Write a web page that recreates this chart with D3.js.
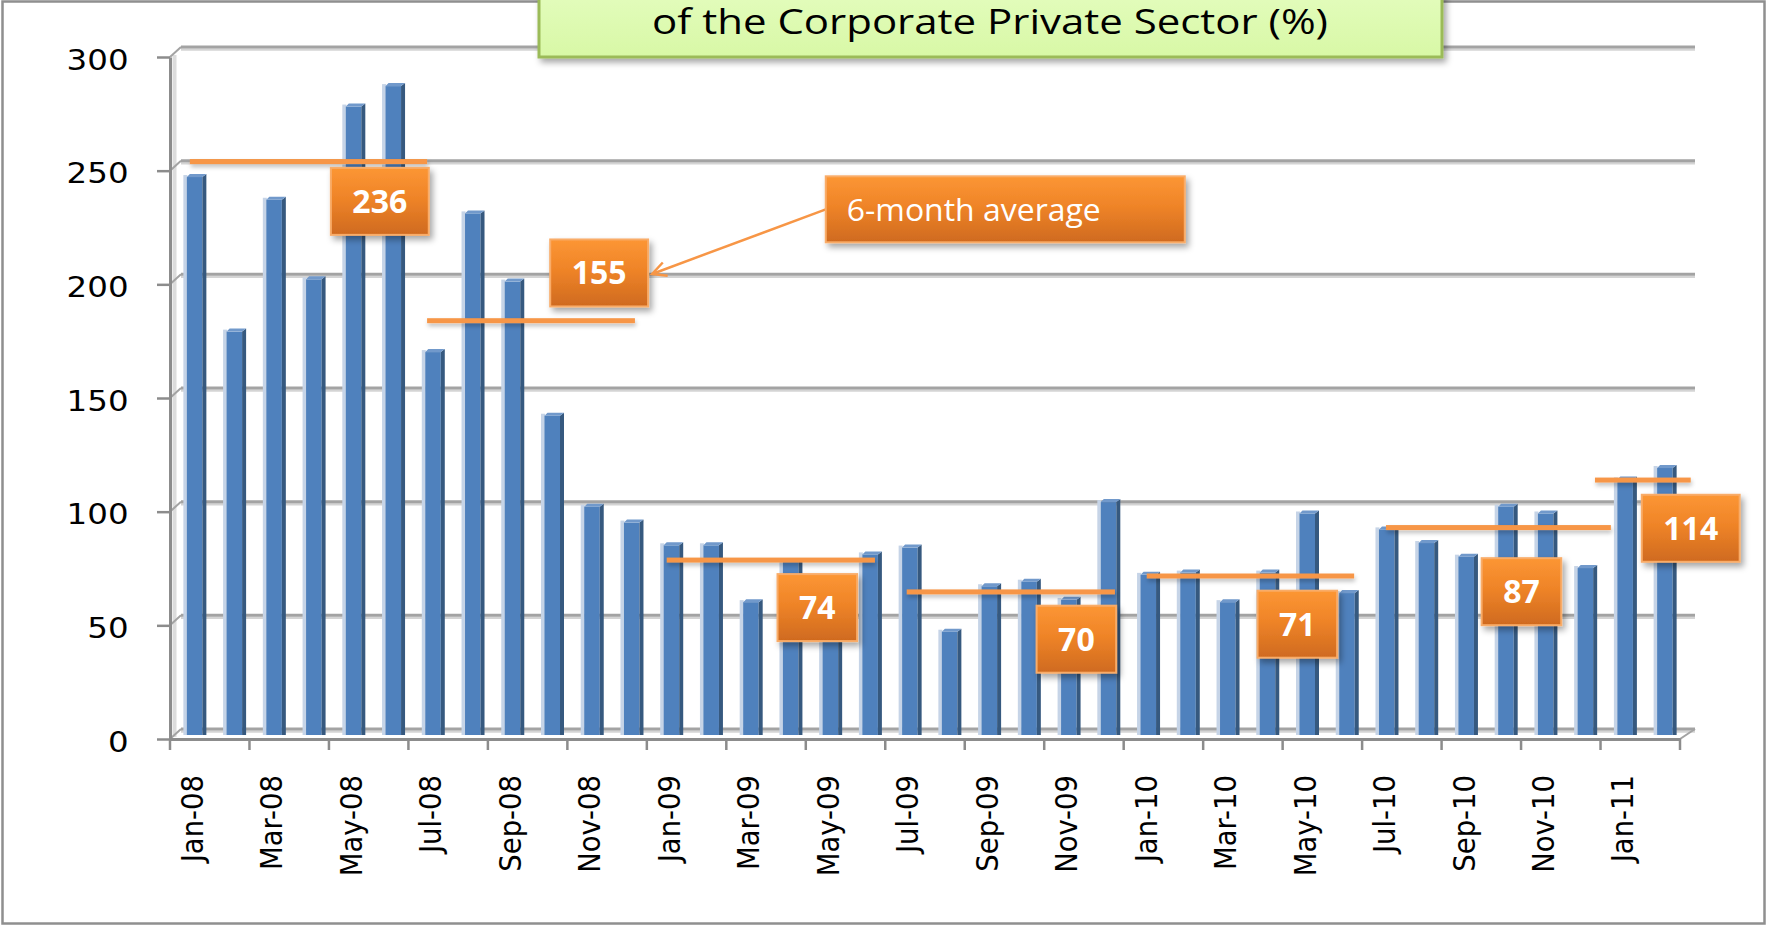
<!DOCTYPE html>
<html>
<head>
<meta charset="utf-8">
<script src="https://cdn.jsdelivr.net/npm/d3@7"></script>
<style>
  html, body { margin: 0; padding: 0; background: #fff; }
  svg { display: block; }
</style>
</head>
<body>
<svg id="chart"></svg>
<script>
// ---- data ----
const months = ["Jan-08","Feb-08","Mar-08","Apr-08","May-08","Jun-08","Jul-08","Aug-08","Sep-08","Oct-08","Nov-08","Dec-08",
                "Jan-09","Feb-09","Mar-09","Apr-09","May-09","Jun-09","Jul-09","Aug-09","Sep-09","Oct-09","Nov-09","Dec-09",
                "Jan-10","Feb-10","Mar-10","Apr-10","May-10","Jun-10","Jul-10","Aug-10","Sep-10","Oct-10","Nov-10","Dec-10",
                "Jan-11","Feb-11"];
const values = [245,177,235,200,276,285,168,229,199,140,100,93,
                83,83,58,76,65,79,82,45,65,67,59,102,
                70,71,58,71,97,62,90,84,78,100,97,73,
                112,117];
const yTicks = [0,50,100,150,200,250,300];

// 6-month average lines (month index from / to, level on the value axis)
const avgFrom  = [0, 5.97, 12.0, 18.04, 24.08, 30.1, 35.36];
const avgTo    = [5.97, 11.2, 17.24, 23.28, 29.3, 35.76, 37.77];
const avgLevel = [254, 184, 78.7, 64.7, 71.7, 93, 113.9];

// average call-out boxes (label, anchor as month index / value)
const avgLabels = ["236","155","74","70","71","87","114"];
const boxAt  = [4.78, 10.3, 15.79, 22.31, 27.87, 33.51, 37.77];
const boxVal = [236.5, 205, 57.8, 43.9, 50.5, 64.8, 92.7];

const noteText = "6-month average";
const noteAt = 20.52, noteVal = 233;
const titleText = "of the Corporate Private Sector (%)";

// ---- layout ----
const W = 1767, H = 926;
const DX = 11, DY = -10;           // depth of the 3d back wall
const orange = "#F79646";

const svg = d3.select("#chart").attr("width", W).attr("height", H);
const defs = svg.append("defs");

defs.append("filter").attr("id", "shadow")
    .attr("x", "-20%").attr("y", "-30%").attr("width", "150%").attr("height", "180%")
  .append("feDropShadow")
    .attr("dx", 3).attr("dy", 4).attr("stdDeviation", 3)
    .attr("flood-color", "#000").attr("flood-opacity", 0.35);

defs.append("filter").attr("id", "lineShadow")
    .attr("x", "-5%").attr("y", "-150%").attr("width", "110%").attr("height", "400%")
  .append("feDropShadow")
    .attr("dx", 1).attr("dy", 3).attr("stdDeviation", 2)
    .attr("flood-color", "#000").attr("flood-opacity", 0.25);

const og = defs.append("linearGradient").attr("id", "orangeGrad")
    .attr("x1", 0).attr("y1", 0).attr("x2", 0).attr("y2", 1);
og.append("stop").attr("offset", "0%").attr("stop-color", "#FC9634");
og.append("stop").attr("offset", "45%").attr("stop-color", "#EF8428");
og.append("stop").attr("offset", "100%").attr("stop-color", "#CF6A1F");

const gg = defs.append("linearGradient").attr("id", "greenGrad")
    .attr("x1", 0).attr("y1", 0).attr("x2", 0).attr("y2", 1);
gg.append("stop").attr("offset", "0%").attr("stop-color", "#E9FFC9");
gg.append("stop").attr("offset", "100%").attr("stop-color", "#D8F8A6");

defs.append("marker").attr("id", "arrow")
    .attr("markerUnits", "userSpaceOnUse")
    .attr("markerWidth", 20).attr("markerHeight", 20)
    .attr("refX", 16).attr("refY", 8).attr("orient", "auto")
  .append("path")
    .attr("d", "M2,1 L16,8 L2,15")
    .attr("fill", "none").attr("stroke", orange).attr("stroke-width", 2.5);

// outer frame
svg.append("rect")
    .attr("x", 2.5).attr("y", 1.5).attr("width", W - 5).attr("height", H - 4)
    .attr("fill", "none").attr("stroke", "#8f8f8f").attr("stroke-width", 2.5);

const x = d3.scaleBand().domain(months).range([170, 1680]);
const xi = d3.scaleLinear().domain([-0.5, months.length - 0.5]).range([170, 1680]);
const y = d3.scaleLinear().domain([0, 300]).range([739, 57]);
const bw = x.bandwidth();

// side wall strip
svg.append("line")
    .attr("x1", 174.5).attr("x2", 174.5)
    .attr("y1", y(300) - 2).attr("y2", y(0) - 2)
    .attr("stroke", "#dcdcdc").attr("stroke-width", 4);

// back wall gridlines
const grid = svg.append("g");
yTicks.forEach(t => {
  const yy = y(t) + DY;
  grid.append("line")
      .attr("x1", 170 + DX).attr("x2", 1695).attr("y1", yy + 2.5).attr("y2", yy + 2.5)
      .attr("stroke", "#d4d4d4").attr("stroke-width", 2.5);
  grid.append("line")
      .attr("x1", 170 + DX).attr("x2", 1695).attr("y1", yy).attr("y2", yy)
      .attr("stroke", "#a3a3a3").attr("stroke-width", 3);
  grid.append("line")
      .attr("x1", 170).attr("y1", y(t)).attr("x2", 170 + DX).attr("y2", yy)
      .attr("stroke", "#a3a3a3").attr("stroke-width", 2);
});
// right floor corner
grid.append("line")
    .attr("x1", 1680).attr("y1", y(0)).attr("x2", 1695).attr("y2", y(0) + DY)
    .attr("stroke", "#a3a3a3").attr("stroke-width", 2);

// bars (pseudo 3d columns)
const bars = svg.append("g").selectAll("g")
  .data(months.map((m, i) => ({ m, v: values[i] })))
  .join("g")
    .attr("transform", d => `translate(${x(d.m) + bw / 2 + 5},0)`);

const bottom = y(0) - 4;
bars.append("rect")
    .attr("x", -11.5).attr("width", 4)
    .attr("y", d => y(d.v) - 7).attr("height", d => bottom - y(d.v) + 7)
    .attr("fill", "#C6D4E7");
bars.append("rect")
    .attr("x", -8).attr("width", 15.5)
    .attr("y", d => y(d.v) - 5).attr("height", d => bottom - y(d.v) + 5)
    .attr("fill", "#4F81BD");
bars.append("path")
    .attr("d", d => { const t = y(d.v) - 5; return `M7.5,${t} L11.5,${t - 3} L11.5,${bottom} L7.5,${bottom} Z`; })
    .attr("fill", "#36597F");
bars.append("path")
    .attr("d", d => { const t = y(d.v) - 5; return `M-8,${t} L-5,${t - 3} L11.5,${t - 3} L7.5,${t} Z`; })
    .attr("fill", "#7199CB");

// y axis
const yAxis = svg.append("g")
    .attr("transform", "translate(170,0)")
    .call(d3.axisLeft(y).tickValues(yTicks).tickSize(13).tickPadding(24).tickSizeOuter(0));
yAxis.select(".domain").attr("stroke", "#8c8c8c").attr("stroke-width", 3);
yAxis.selectAll(".tick line").attr("stroke", "#8c8c8c").attr("stroke-width", 2.5);
yAxis.selectAll(".tick text")
    .attr("font-family", "DejaVu Sans, Verdana, sans-serif")
    .attr("font-size", 29).attr("fill", "#000")
    .attr("dy", "0.42em")
    .attr("transform", "scale(1.12,1)");

// x axis
const xAxis = svg.append("g")
    .attr("transform", `translate(0,${y(0)})`)
    .call(d3.axisBottom(x)
      .tickValues(months.filter((m, i) => i % 2 === 0))
      .tickSize(0).tickSizeOuter(0));
xAxis.select(".domain").attr("stroke", "#8c8c8c").attr("stroke-width", 3);
xAxis.selectAll(".tick text")
    .attr("font-family", "DejaVu Sans, Verdana, sans-serif")
    .attr("font-size", 27.5).attr("fill", "#000")
    .attr("text-anchor", "end")
    .attr("x", 0).attr("y", 0).attr("dy", "0.36em")
    .attr("transform", "translate(2,36) scale(1.12,1) rotate(-90)");

// tick marks between every second month
const bounds = months.filter((m, i) => i % 2 === 0).map(m => x(m)).concat([x.range()[1]]);
xAxis.append("g").selectAll("line")
  .data(bounds)
  .join("line")
    .attr("x1", d => d).attr("x2", d => d)
    .attr("y1", 0).attr("y2", 11)
    .attr("stroke", "#8c8c8c").attr("stroke-width", 2.5);

// average lines (drawn as thin rects so the shadow filter has a box to work on)
svg.append("g").selectAll("rect")
  .data(avgLevel.map((v, i) => ({ v, a: avgFrom[i], b: avgTo[i] })))
  .join("rect")
    .attr("x", d => xi(d.a)).attr("width", d => xi(d.b) - xi(d.a))
    .attr("y", d => y(d.v) - 2.5).attr("height", 5)
    .attr("fill", orange)
    .attr("filter", "url(#lineShadow)");

// average call-outs
const boxH = 67;
const boxes = svg.append("g").selectAll("g")
  .data(avgLabels.map((l, i) => ({ l, cx: xi(boxAt[i]), cy: y(boxVal[i]) })))
  .join("g")
    .attr("transform", d => `translate(${d.cx},${d.cy})`);
boxes.append("rect").attr("class", "box");
boxes.append("text")
    .attr("text-anchor", "middle").attr("dy", "0.36em")
    .attr("font-family", "Open Sans, sans-serif").attr("font-weight", 700)
    .attr("font-size", 32).attr("fill", "#fff")
    .text(d => d.l);
boxes.each(function (d) {
  const g = d3.select(this);
  d.w = g.select("text").node().getComputedTextLength() + 43;
  g.select("rect")
      .attr("x", -d.w / 2).attr("y", -boxH / 2)
      .attr("width", d.w).attr("height", boxH)
      .attr("fill", "url(#orangeGrad)")
      .attr("stroke", "#F9AC68").attr("stroke-width", 2)
      .attr("filter", "url(#shadow)");
});

// note box with arrow to the second call-out
const noteW = 359, noteH = 66;
const nx = xi(noteAt) - noteW / 2, ny = y(noteVal) - noteH / 2;
const target = boxes.data()[1];
svg.append("line")
    .attr("x1", nx).attr("y1", ny + noteH / 2)
    .attr("x2", target.cx + target.w / 2 + 4).attr("y2", target.cy + 1)
    .attr("stroke", orange).attr("stroke-width", 2.5)
    .attr("marker-end", "url(#arrow)");
svg.append("rect")
    .attr("x", nx).attr("y", ny).attr("width", noteW).attr("height", noteH)
    .attr("fill", "url(#orangeGrad)")
    .attr("stroke", "#F9AC68").attr("stroke-width", 2)
    .attr("filter", "url(#shadow)");
svg.append("text")
    .attr("x", nx + 21).attr("y", ny + noteH / 2 + 12)
    .attr("font-family", "Open Sans, sans-serif")
    .attr("font-size", 31).attr("fill", "#fff")
    .attr("textLength", 254).attr("lengthAdjust", "spacingAndGlyphs")
    .text(noteText);

// title box (upper line is cut off by the frame)
svg.append("rect")
    .attr("x", 539).attr("y", -45).attr("width", 903).attr("height", 102)
    .attr("fill", "url(#greenGrad)")
    .attr("stroke", "#9BBB59").attr("stroke-width", 3)
    .attr("filter", "url(#shadow)");
svg.append("text")
    .attr("x", 990).attr("y", 34)
    .attr("text-anchor", "middle")
    .attr("font-family", "Open Sans, sans-serif")
    .attr("font-size", 35).attr("fill", "#000")
    .attr("textLength", 676).attr("lengthAdjust", "spacingAndGlyphs")
    .text(titleText);
</script>
</body>
</html>
